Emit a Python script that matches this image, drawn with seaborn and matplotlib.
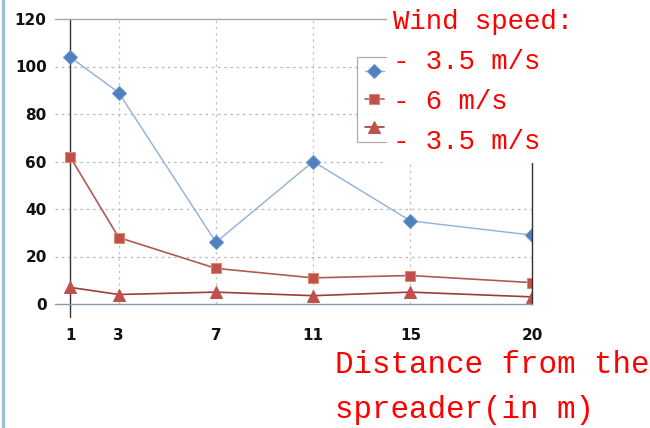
import numpy as np
import pandas as pd
import seaborn as sns
import matplotlib.pyplot as plt
from matplotlib.patches import Rectangle
from matplotlib.lines import Line2D

# data
distance = [1, 3, 7, 11, 15, 20]
wind_35_a = [104, 89, 26, 60, 35, 29]
wind_6 = [62, 28, 15, 11, 12, 9]
wind_35_b = [7, 4, 5, 3.5, 5, 3]

labels = ['3.5 m/s', '6 m/s', '3.5 m/s ']
x_ticks = [1, 3, 7, 11, 15, 20]
y_ticks = [0, 20, 40, 60, 80, 100, 120]

sns.set_style('white')

W, H = 650, 428
fig = plt.figure(figsize=(W / 100, H / 100), dpi=100)
ax = fig.add_axes([55 / W, 1 - 304 / H, (532 - 55) / W, (304 - 19) / H])

sns.lineplot(x=distance, y=wind_35_a, ax=ax, color='#8fb0d8', lw=1.0,
             marker='D', markersize=7, markerfacecolor='#4f81bd',
             markeredgecolor='#6a96cc', label=labels[0])
sns.lineplot(x=distance, y=wind_6, ax=ax, color='#b05a55', lw=1.2,
             marker='s', markersize=7, markerfacecolor='#c0504d',
             markeredgecolor='#d98a6a', label=labels[1])
sns.lineplot(x=distance, y=wind_35_b, ax=ax, color='#9a3d3a', lw=1.2,
             marker='^', markersize=8, markerfacecolor='#c0504d',
             markeredgecolor='#c0504d', label=labels[2])

ax.set_xlim(0.38, 20)
ax.set_ylim(0, 120)
ax.set_xticks(x_ticks)
ax.set_yticks(y_ticks)
ax.set_xticklabels([str(v) for v in x_ticks], fontweight='bold', fontsize=11)
ax.set_yticklabels([str(v) for v in y_ticks], fontweight='bold', fontsize=11)
ax.tick_params(axis='x', length=0, pad=17, colors='#111111')
ax.tick_params(axis='y', length=0, pad=6, colors='#111111')

# dotted grid, only inner lines
for v in [20, 40, 60, 80, 100]:
    ax.axhline(v, color='#b8b8b8', lw=0.9, ls=(0, (2, 3)), zorder=0)
for v in [3, 7, 11, 15]:
    ax.axvline(v, color='#c4c4c4', lw=0.9, ls=(0, (2, 3)), zorder=0)

ax.spines['left'].set_visible(False)
ax.spines['top'].set_color('#a8a8a8')
ax.spines['right'].set_color('#333333')
ax.spines['bottom'].set_color('#8a9bb0')
for s in ax.spines.values():
    s.set_linewidth(1.0)

# vertical axis drawn through x = 1
ax.axvline(1, ymin=-0.045, ymax=1, color='#333333', lw=1.0, clip_on=False, zorder=1)

# legend: only the markers show, its labels sit under the white box
handles, _ = ax.get_legend_handles_labels()
leg = ax.legend(handles, ['', '', ''], loc='upper left',
                bbox_to_anchor=(357 / W, 1 - 57 / H),
                bbox_transform=fig.transFigure, fontsize=10, frameon=True,
                handlelength=1.4, labelspacing=1.0, borderpad=0.55,
                handletextpad=3.0, borderaxespad=0)
leg.get_frame().set_edgecolor('#999999')
leg.get_frame().set_linewidth(0.9)
leg.get_frame().set_boxstyle('square', pad=0)

# white box over the legend labels, with the red notes on top
fig.add_artist(Rectangle((387 / W, 1 - 163 / H), (W - 387) / W, 163 / H,
                         transform=fig.transFigure, facecolor='white',
                         edgecolor='none', zorder=5))

mono = 'Liberation Mono'
notes = ['Wind speed:', '- 3.5 m/s', '- 6 m/s', '- 3.5 m/s']
note_y = [22, 62, 102, 142]
for t, yy in zip(notes, note_y):
    fig.text(393 / W, 1 - yy / H, t, family=mono, fontsize=19.7, color='red',
             ha='left', va='center', zorder=6)

fig.text(335 / W, 1 - 365 / H, 'Distance from the', family=mono, fontsize=22.2,
         color='red', ha='left', va='center', zorder=6)
fig.text(335 / W, 1 - 410 / H, 'spreader(in m)', family=mono, fontsize=22.2,
         color='red', ha='left', va='center', zorder=6)

# light scan edge on the left
fig.add_artist(Line2D([2.5 / W, 2.5 / W], [0, 1], transform=fig.transFigure,
                      color='#9cc3d3', lw=2.5))

fig.savefig('out.png', dpi=100)
